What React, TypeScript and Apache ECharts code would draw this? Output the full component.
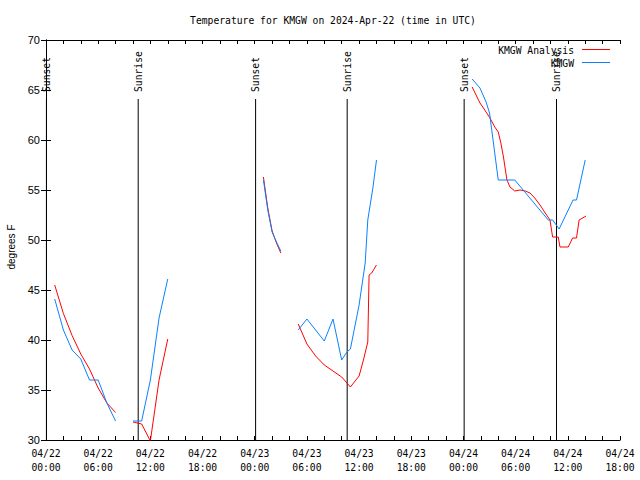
import React, { useEffect, useRef } from 'react';
import * as echarts from 'echarts';

// x values are hours since 2024-04-22 00:00 UTC
const xTickLabels = [
  '04/22\n00:00', '04/22\n06:00', '04/22\n12:00', '04/22\n18:00',
  '04/23\n00:00', '04/23\n06:00', '04/23\n12:00', '04/23\n18:00',
  '04/24\n00:00', '04/24\n06:00', '04/24\n12:00', '04/24\n18:00',
];

const sunEventHours = [0.05, 10.6, 24.1, 34.63, 48.08, 58.7];
const sunEventNames = ['Sunset', 'Sunrise', 'Sunset', 'Sunrise', 'Sunset', 'Sunrise'];

const seriesNames = ['KMGW Analysis', 'KMGW'];

// null temperature = gap in the record
const analysisHours = [
  1, 2, 3, 4, 5, 6, 7, 8, 9,
  10, 11, 12, 13, 14, 20,
  25, 25.5, 26, 26.5, 27, 28,
  29, 30, 31, 32, 33, 34, 35, 36, 36.5, 37, 37.15, 37.45, 38, 43,
  49, 49.9, 50.3, 51.05, 51.6, 52, 52.3, 52.6, 53, 53.35,
  53.9, 54.5, 55.1, 55.65, 56.2, 56.8, 57.4, 57.95, 58.25, 58.9,
  59.1, 60.05, 60.55, 61, 61.3, 62.1,
];
const analysisTemps = [
  45.5, 42.65, 40.45, 38.6, 37.1, 35.2, 33.7, 32.75, null,
  31.8, 31.6, 29.9, 36, 40.1, null,
  56.3, 53.2, 50.9, 49.7, 48.7, null,
  41.6, 39.6, 38.4, 37.5, 36.9, 36.3, 35.3, 36.4, 38, 39.8, 46.5, 46.7, 47.5, null,
  65.3, 63.7, 63.2, 62.2, 61.3, 60.8, 59.7, 58.3, 56, 55.3,
  54.9, 55, 54.9, 54.7, 54.2, 53.5, 52.7, 52, 50.3, 50.3,
  49.3, 49.3, 50.2, 50.2, 52, 52.4,
];

const obsHours = [
  1, 2, 3, 4, 5, 6, 7, 8, 9,
  10, 11, 12, 13, 14, 20,
  25, 25.5, 26, 26.5, 27, 28,
  29, 30, 32, 33, 34, 34.6, 35, 36, 36.7, 37, 37.6, 38, 43,
  49, 49.9, 50.6, 51, 52, 53.9, 57.75, 58.26, 59, 60.6, 61, 62,
];
const obsTemps = [
  44.1, 41, 39, 38.1, 36, 36, 33.7, 31.9, null,
  31.9, 31.9, 36, 42.2, 46.1, null,
  56.0, 53.0, 50.8, 49.8, 48.9, null,
  41, 42.1, 39.9, 42.1, 38, 38.8, 39.1, 43.5, 47.7, 52, 55.3, 58, null,
  66.1, 65.2, 63.8, 62.7, 56, 56, 52, 52, 51.1, 54, 54, 58,
];

const MONO = '"DejaVu Sans Mono", "Liberation Mono", monospace';
const SANS = '"Liberation Sans", Arial, sans-serif';
const RED = '#ff0000';
const BLUE = '#0a80ff';
const SUN_LINE_TOP = 64.1;

const pairs = (xs: number[], ys: (number | null)[]) =>
  xs.map((x, i) => [x, ys[i] === null ? null : ys[i]]);

export default function App() {
  const ref = useRef<HTMLDivElement>(null);

  useEffect(() => {
    if (!ref.current) return;
    const chart = echarts.init(ref.current, null, { renderer: 'svg' });

    const xAxisBase = {
      type: 'value' as const,
      min: 0,
      max: 66,
      interval: 2,
      splitLine: { show: false },
      axisLine: { show: true, lineStyle: { color: '#000', width: 1 } },
      axisTick: { show: true, inside: true, length: 4, lineStyle: { color: '#000' } },
    };
    const yAxisBase = {
      type: 'value' as const,
      min: 30,
      max: 70,
      interval: 5,
      splitLine: { show: false },
      axisLine: { show: true, lineStyle: { color: '#000', width: 1 } },
      axisTick: { show: true, inside: true, length: 5, lineStyle: { color: '#000' } },
    };

    chart.setOption({
      animation: false,
      backgroundColor: '#fff',
      grid: { left: 46, right: 20, top: 40, bottom: 40, containLabel: false, outerBoundsMode: 'none' },
      xAxis: [
        {
          ...xAxisBase,
          position: 'bottom',
          axisLabel: {
            show: true,
            color: '#000',
            fontFamily: MONO,
            fontSize: 9.7,
            lineHeight: 14,
            margin: 6,
            formatter: (v: number) => {
              const i = Math.round(v / 6);
              return Math.abs(v - i * 6) < 1e-6 ? (xTickLabels[i] ?? '') : '';
            },
          },
        },
        { ...xAxisBase, position: 'top', axisLabel: { show: false } },
      ],
      yAxis: [
        {
          ...yAxisBase,
          position: 'left',
          axisLabel: { show: true, color: '#000', fontFamily: SANS, fontSize: 11, margin: 6 },
        },
        { ...yAxisBase, position: 'right', axisLabel: { show: false } },
      ],
      graphic: [
        {
          type: 'text',
          x: 333,
          y: 20,
          style: {
            text: 'Temperature for KMGW on 2024-Apr-22 (time in UTC)',
            fill: '#000',
            font: `9.7px ${MONO}`,
            align: 'center',
            verticalAlign: 'middle',
          },
        },
        {
          type: 'text',
          x: 11,
          y: 247,
          rotation: Math.PI / 2,
          style: {
            text: 'degrees F',
            fill: '#000',
            font: `10px ${SANS}`,
            align: 'center',
            verticalAlign: 'middle',
          },
        },
        {
          type: 'text',
          x: 574,
          y: 50,
          z: 100,
          style: { text: seriesNames[0], fill: '#000', font: `9.7px ${MONO}`, align: 'right', verticalAlign: 'middle' },
        },
        {
          type: 'line',
          z: 100,
          shape: { x1: 582, y1: 49.5, x2: 610, y2: 49.5 },
          style: { stroke: RED, lineWidth: 1 },
        },
        {
          type: 'text',
          x: 574,
          y: 63,
          z: 100,
          style: { text: seriesNames[1], fill: '#000', font: `9.7px ${MONO}`, align: 'right', verticalAlign: 'middle' },
        },
        {
          type: 'line',
          z: 100,
          shape: { x1: 582, y1: 62.5, x2: 610, y2: 62.5 },
          style: { stroke: BLUE, lineWidth: 1 },
        },
      ],
      series: [
        {
          type: 'custom',
          name: 'sun',
          coordinateSystem: 'cartesian2d',
          xAxisIndex: 0,
          yAxisIndex: 0,
          encode: { x: 0, y: 1 },
          data: sunEventHours.map((h) => [h, 30]),
          renderItem: (params: any, api: any) => {
            const h = api.value(0);
            const top = api.coord([h, SUN_LINE_TOP]);
            const bottom = api.coord([h, 30]);
            return {
              type: 'group',
              children: [
                {
                  type: 'line',
                  shape: { x1: top[0], y1: top[1], x2: bottom[0], y2: bottom[1] },
                  style: { stroke: '#000', lineWidth: 1 },
                },
                {
                  type: 'text',
                  x: top[0],
                  y: top[1] - 7,
                  rotation: Math.PI / 2,
                  style: {
                    text: sunEventNames[params.dataIndex],
                    fill: '#000',
                    font: `9.7px ${MONO}`,
                    align: 'left',
                    verticalAlign: 'middle',
                  },
                },
              ],
            };
          },
        },
        {
          type: 'line',
          name: seriesNames[0],
          data: pairs(analysisHours, analysisTemps),
          showSymbol: false,
          symbol: 'none',
          connectNulls: false,
          clip: true,
          lineStyle: { color: RED, width: 1 },
          itemStyle: { color: RED },
        },
        {
          type: 'line',
          name: seriesNames[1],
          data: pairs(obsHours, obsTemps),
          showSymbol: false,
          symbol: 'none',
          connectNulls: false,
          clip: true,
          lineStyle: { color: BLUE, width: 1 },
          itemStyle: { color: BLUE },
        },
      ],
    });

    return () => chart.dispose();
  }, []);

  return (
    <div
      ref={ref}
      style={{ position: 'fixed', left: 0, top: 0, width: 640, height: 480, background: '#fff' }}
    />
  );
}
